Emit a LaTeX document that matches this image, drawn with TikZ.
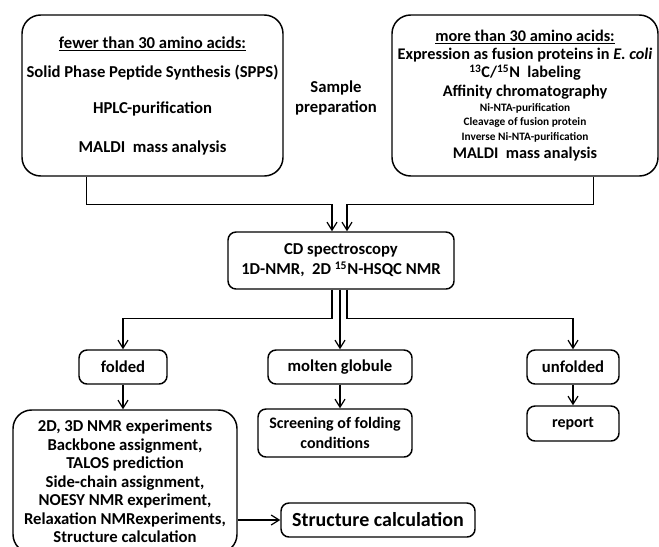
\documentclass[tikz,border=0pt]{standalone}
\usepackage{fontspec}
\setmainfont{Carlito}
\usepackage{tikz}
\usetikzlibrary{arrows.meta, calc}
\tikzset{
  bigbox/.style={draw, line width=1.1pt, rounded corners=14pt, align=center, inner sep=0pt},
  smallbox/.style={draw, line width=1.1pt, rounded corners=6pt, align=center, inner sep=0pt},
  arr/.style={line width=0.9pt, -{Straight Barb[length=6pt, width=7.5pt]}}
}
\newcommand{\txt}[1]{\fontsize{#1}{1.2\dimexpr#1pt\relax}\selectfont\bfseries}

\begin{document}
\begin{tikzpicture}[x=0.75pt, y=-0.75pt, every node/.style={font=\txt{12.5}}]
  \useasboundingbox (0,0) rectangle (659,546);

  % fewer than 30 amino acids
  \node[bigbox, minimum width=195.75pt, minimum height=120.75pt] (fewer) at (152.5, 95.5) {
    \underline{fewer than 30 amino acids:}\\[7pt]
    Solid Phase Peptide Synthesis (SPPS)\\[12pt]
    HPLC-purification\\[14pt]
    MALDI\ \ mass analysis
  };

  % more than 30 amino acids
  \node[bigbox, minimum width=199.5pt, minimum height=120.75pt, font=\txt{12.2}] (more) at (525, 95.5) {
    \underline{more than 30 amino acids:}\\[-1pt]
    Expression as fusion proteins in \textit{E. coli}\\[-1pt]
    \textsuperscript{13}C/\textsuperscript{15}N\ \ labeling\hspace*{34pt}\\[-1pt]
    Affinity chromatography\\[-3pt]
    \txt{8.5}Ni-NTA-purification\\[-4pt]
    \txt{8.5}Cleavage of fusion protein\\[-4pt]
    \txt{8.5}Inverse Ni-NTA-purification\\[-1pt]
    MALDI\ \ mass analysis
  };

  % Sample preparation
  \node[align=center, inner sep=0pt] (sample) at (336, 98) {Sample\\preparation};

  % CD spectroscopy
  \node[smallbox, minimum width=169.5pt, minimum height=42.75pt] (cd) at (341, 260.5) {
    CD spectroscopy\\
    1D-NMR,\ \ 2D \textsuperscript{15}N-HSQC NMR
  };

  % folding states
  \node[smallbox, minimum width=66pt, minimum height=25.5pt] (folded) at (123, 367) {folded};
  \node[smallbox, minimum width=108pt, minimum height=25.5pt] (molten) at (340, 367) {molten globule};
  \node[smallbox, minimum width=69pt, minimum height=25.5pt] (unfolded) at (573, 367) {unfolded};

  % follow-up steps
  \node[bigbox, minimum width=168pt, minimum height=107.25pt] (nmr) at (125, 481.5) {
    2D, 3D NMR experiments\\[-1.1pt]
    Backbone assignment,\\[-1.1pt]
    TALOS prediction\\[-1.1pt]
    Side-chain assignment,\\[-1.1pt]
    NOESY NMR experiment,\\[-1.1pt]
    Relaxation NMRexperiments,\\[-1.1pt]
    Structure calculation
  };
  \node[smallbox, minimum width=115.5pt, minimum height=36pt, font=\txt{12}] (screening) at (335, 433) {
    Screening of folding\\conditions
  };
  \node[smallbox, minimum width=69pt, minimum height=26.25pt, font=\txt{12}] (report) at (573, 423.5) {report};
  \node[smallbox, minimum width=145.5pt, minimum height=25.5pt, font=\txt{15}] (structure) at (378, 520) {Structure calculation};

  % connectors
  \draw[arr] ($(fewer.south west)!0.25!(fewer.south east)$) -- ++(0, 28) -| ([xshift=-6.75pt]cd.north);
  \draw[arr] ($(more.south west)!0.755!(more.south east)$) -- ++(0, 28) -| ([xshift=4.5pt]cd.north);
  \draw[arr] ([xshift=-6.75pt]cd.south) -- ++(0, 29) -| (folded.north);
  \draw[arr] (cd.south -| molten.north) -- (molten.north);
  \draw[arr] ([xshift=4.5pt]cd.south) -- ++(0, 29) -| (unfolded.north);
  \draw[arr] (folded.south) -- (folded.south |- nmr.north);
  \draw[arr] (molten.south) -- (molten.south |- screening.north);
  \draw[arr] (unfolded.south) -- (report.north);
  \draw[arr] (structure.west -| nmr.east) -- (structure.west);
\end{tikzpicture}
\end{document}
